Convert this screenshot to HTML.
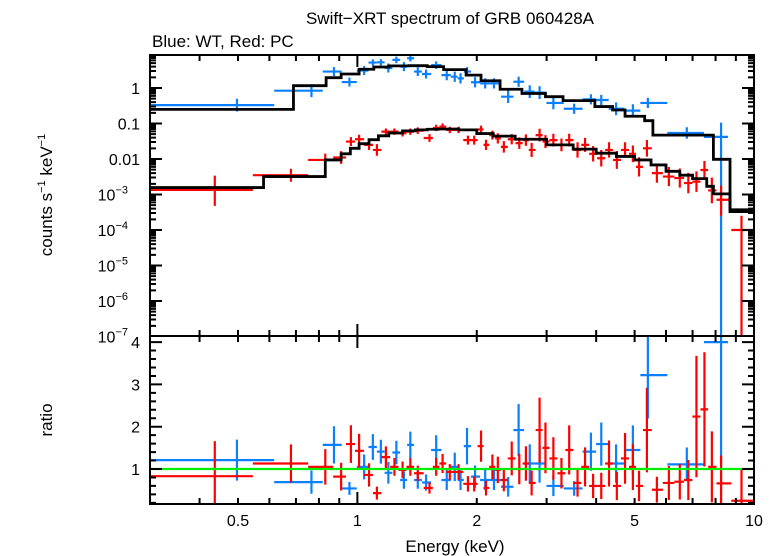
<!DOCTYPE html>
<html><head><meta charset="utf-8"><style>
body{margin:0;background:#fff}
svg{display:block;font-family:"Liberation Sans",sans-serif}
</style></head><body>
<svg id="chart" width="778" height="556" viewBox="0 0 778 556" xmlns="http://www.w3.org/2000/svg">
<text x="450" y="24" font-size="17" text-anchor="middle">Swift−XRT spectrum of GRB 060428A</text>
<text x="152" y="47" font-size="17">Blue: WT, Red: PC</text>
<text transform="translate(52,195) rotate(-90)" font-size="17" text-anchor="middle">counts s<tspan font-size="11" dy="-7">−1</tspan><tspan dy="7"> keV</tspan><tspan font-size="11" dy="-7">−1</tspan></text>
<text transform="translate(52,420) rotate(-90)" font-size="17" text-anchor="middle">ratio</text>
<text x="455" y="552" font-size="17" text-anchor="middle">Energy (keV)</text>
<g id="marks"></g>
</svg>
<script>
// ---- data ----
const blueE=[0.497,0.766,0.873,0.955,1.04,1.094,1.146,1.197,1.254,1.31,1.36,1.42,1.49,1.58,1.68,1.76,1.82,1.89,1.98,2.10,2.21,2.4,2.55,2.72,2.88,3.12,3.52,3.88,4.12,4.49,4.95,5.4,6.77,8.26];
const blueV=[0.33,0.84,2.9,1.47,3.1,5.2,5.3,3.66,6.2,4.0,6.9,2.9,2.48,4.4,2.3,2.08,1.87,2.9,1.45,1.35,1.35,0.57,1.5,0.79,0.74,0.38,0.26,0.48,0.46,0.26,0.23,0.38,0.054,0.042];
const blueErr=[0.1,0.1,0.07,0.07,0.07,0.05,0.05,0.07,0.05,0.07,0.05,0.07,0.07,0.06,0.08,0.08,0.08,0.07,0.08,0.08,0.08,0.1,0.08,0.1,0.1,0.1,0.08,0.08,0.08,0.1,0.1,0.08,0.09,6];
const blueR=[1.21,0.69,1.57,0.54,1.05,1.52,1.41,0.91,1.39,0.74,1.57,0.74,0.68,1.45,0.74,1.05,0.74,1.54,0.82,0.74,0.74,0.58,1.92,1.13,1.13,0.6,0.54,1.41,1.59,1.13,1.45,3.22,1.11,4.0];
const redE=[0.437,0.68,0.83,0.91,0.963,1.01,1.07,1.12,1.18,1.24,1.30,1.36,1.42,1.52,1.58,1.64,1.71,1.80,1.90,1.97,2.05,2.11,2.19,2.26,2.34,2.45,2.56,2.66,2.75,2.88,2.98,3.12,3.27,3.42,3.59,3.75,3.93,4.12,4.31,4.51,4.73,4.95,5.13,5.37,5.69,6.1,6.5,6.83,7.16,7.5,7.83,8.26,9.3];
const redV=[1.35e-3,3.5e-3,9.4e-3,0.011,0.031,0.036,0.025,0.018,0.059,0.059,0.053,0.059,0.063,0.039,0.075,0.082,0.066,0.066,0.034,0.034,0.068,0.025,0.047,0.038,0.022,0.036,0.028,0.034,0.018,0.047,0.031,0.034,0.025,0.034,0.018,0.025,0.014,0.0105,0.018,0.0094,0.018,0.014,0.006,0.020,0.004,0.0032,0.0029,0.0021,0.0023,0.0049,0.0013,7.1e-4,1e-4];
const redErr=[0.25,0.1,0.1,0.1,0.07,0.07,0.08,0.09,0.05,0.05,0.05,0.05,0.05,0.06,0.05,0.05,0.05,0.05,0.07,0.07,0.06,0.08,0.07,0.08,0.09,0.08,0.09,0.09,0.11,0.1,0.1,0.1,0.1,0.1,0.12,0.11,0.12,0.13,0.12,0.14,0.12,0.13,0.15,0.13,0.15,0.15,0.15,0.16,0.16,0.14,0.2,0.25,4];
const redR=[0.83,1.13,1.05,0.82,1.59,1.43,0.86,0.43,1.28,1.05,0.98,1.05,0.9,0.55,1.05,1.13,0.93,0.93,0.65,0.65,1.54,0.55,1.05,0.98,0.74,1.25,1.0,1.13,0.67,1.92,1.5,1.25,0.9,1.45,0.67,1.05,0.6,0.6,1.13,0.6,1.25,1.05,0.6,1.92,0.51,0.67,0.7,0.74,2.24,2.41,1.05,0.66,0.25];
// model step curves: bin start energies and values
const blueModelE=[0.3,0.69,0.834,0.91,1.01,1.1,1.2,1.35,1.5,1.65,1.88,2.05,2.29,2.6,2.98,3.3,3.97,4.4,4.73,5.3,5.56,7.9,8.7];
const blueModelV=[0.25,1.16,1.95,2.48,3.37,3.9,4.2,4.25,4.0,3.3,2.3,1.6,0.92,0.7,0.57,0.44,0.30,0.24,0.16,0.12,0.047,0.0098,3.7e-4];
const redModelE=[0.3,0.58,0.83,0.91,0.96,1.01,1.07,1.13,1.2,1.3,1.4,1.5,1.6,1.8,2.0,2.2,2.5,3.0,3.5,4.0,4.5,5.0,5.5,6.0,6.5,7.0,7.6,7.9,8.7];
const redModelV=[1.57e-3,3.2e-3,9.4e-3,0.014,0.02,0.027,0.035,0.045,0.054,0.062,0.066,0.069,0.07,0.066,0.052,0.044,0.036,0.025,0.019,0.0146,0.0118,0.0094,0.0068,0.0045,0.0035,0.0028,0.0017,0.00104,3.3e-4];
const xTickLabels=["0.5","1","2","5","10"];
const xTickVals=[0.5,1,2,5,10];
const ratioTicks=[1,2,3,4];

// ---- axes ----
const X0=150,X1=754,EMIN=0.3,EMAX=10;
const T0=55,T1=336,R0=336,R1=504;
const sx=e=>X0+(X1-X0)*Math.log10(e/EMIN)/Math.log10(EMAX/EMIN);
const syT=v=>88-35.5*Math.log10(v);
const syR=r=>469-42.3*(r-1);
const ns="http://www.w3.org/2000/svg";
const g=document.getElementById('marks');
function mk(tag,attrs,parent){const el=document.createElementNS(ns,tag);for(const k in attrs)el.setAttribute(k,attrs[k]);(parent||g).appendChild(el);return el;}
const clamp=(v,a,b)=>Math.max(a,Math.min(b,v));
function edges(E,first,last){const lo=[],hi=[];for(let i=0;i<E.length;i++){lo.push(i==0?first:Math.sqrt(E[i-1]*E[i]));hi.push(i==E.length-1?last:Math.sqrt(E[i]*E[i+1]));}return [lo,hi];}

const defs=mk('defs',{});
const c1=mk('clipPath',{id:'ct'},defs);mk('rect',{x:X0,y:T0,width:X1-X0,height:T1-T0},c1);
const c2=mk('clipPath',{id:'cr'},defs);mk('rect',{x:X0,y:R0,width:X1-X0,height:R1-R0},c2);
const gt=mk('g',{'clip-path':'url(#ct)'});


const gr=mk('g',{'clip-path':'url(#cr)'});



const EF=1.8;
function series(E,V,Err,R,color,first,last,name){
  const [lo,hi]=edges(E,first,last);
  for(let i=0;i<E.length;i++){
    const x=sx(E[i]),y=syT(V[i]);
    const up=Math.min(Err[i]*EF,0.4),dn=Err[i]*EF;
    const p=mk('path',{d:`M${sx(lo[i])},${y}H${sx(hi[i])}M${x},${syT(V[i]*Math.pow(10,up))}V${clamp(syT(V[i]/Math.pow(10,dn)),0,400)}`,stroke:color,'stroke-width':2.2,fill:'none'},gt);
    
    
    const yr=syR(R[i]);const f=Math.min(Err[i]*4,3);const er=R[i]*f;
    const q=mk('path',{d:`M${sx(lo[i])},${yr}H${sx(hi[i])}M${x},${syR(R[i]+er)}V${syR(Math.max(R[i]-er,0))}`,stroke:color,'stroke-width':2.2,fill:'none'},gr);
    
    
  }
}
function model(E,V,name){
  let d='';for(let i=0;i<E.length;i++){const x=sx(E[i]),y=syT(V[i]);d+=(i?'L':'M')+x+','+y+'H'+sx(i<E.length-1?E[i+1]:EMAX);}
  const p=mk('path',{d,stroke:'#000','stroke-width':2.8,fill:'none'},gt);
  
  
}
series(blueE,blueV,blueErr,blueR,'#0a80ff',0.3,8.6,'wt');
series(redE,redV,redErr,redR,'#ff0000',0.3,EMAX,'pc');
model(blueModelE,blueModelV,'wt-model');
model(redModelE,redModelV,'pc-model');
const gl=mk('line',{x1:X0,x2:X1,y1:syR(1),y2:syR(1),stroke:'#00ee00','stroke-width':2.2},gr);



const ax=mk('g',{stroke:'#000','stroke-width':2,fill:'none'});


mk('rect',{x:X0,y:T0,width:X1-X0,height:T1-T0},ax);
mk('rect',{x:X0,y:R0,width:X1-X0,height:R1-R0},ax);
let td='';
const xt=[];for(let dec=0.1;dec<=10;dec*=10)for(let k=1;k<10;k++){const e=dec*k;if(e>=EMIN-1e-9&&e<=EMAX+1e-9)xt.push(e);}
xt.forEach(e=>{const x=sx(e);const major=Math.abs(Math.log10(e)-Math.round(Math.log10(e)))<1e-6;const L=major?12:6;
  [T0,R0].forEach(t=>td+=`M${x},${t}v${L}`);[T1,R1].forEach(b=>td+=`M${x},${b}v${-L}`);});
for(let p=-7;p<=0;p++)for(let k=1;k<10;k++){const v=k*Math.pow(10,p);const y=syT(v);if(y<T0||y>T1)continue;const L=k==1?12:6;td+=`M${X0},${y}h${L}M${X1},${y}h${-L}`;}
for(let r=0.2;r<=4.11;r+=0.2){const y=syR(r);const L=Math.abs(r-Math.round(r))<1e-6?12:6;td+=`M${X0},${y}h${L}M${X1},${y}h${-L}`;}
mk('path',{d:td},ax);

const tl=mk('g',{'font-size':16,fill:'#000'});
xTickVals.forEach((v,i)=>{const t=mk('text',{x:sx(v),y:526,'text-anchor':'middle'},tl);t.textContent=xTickLabels[i];
  
  });
const yl=[["1",""],["0.1",""],["0.01",""],["10","−3"],["10","−4"],["10","−5"],["10","−6"],["10","−7"]];
yl.forEach((l,i)=>{const y=syT(Math.pow(10,-i))+6;const t=mk('text',{x:l[1]?128:140,y,'text-anchor':'end'},tl);t.textContent=l[0];
  if(l[1]){const s=mk('tspan',{'font-size':11,dy:-7},t);s.textContent=l[1];}
  
  });
ratioTicks.forEach(r=>{const t=mk('text',{x:140,y:syR(r)+6,'text-anchor':'end'},tl);t.textContent=String(r);
  
  });
</script>
</body></html>
